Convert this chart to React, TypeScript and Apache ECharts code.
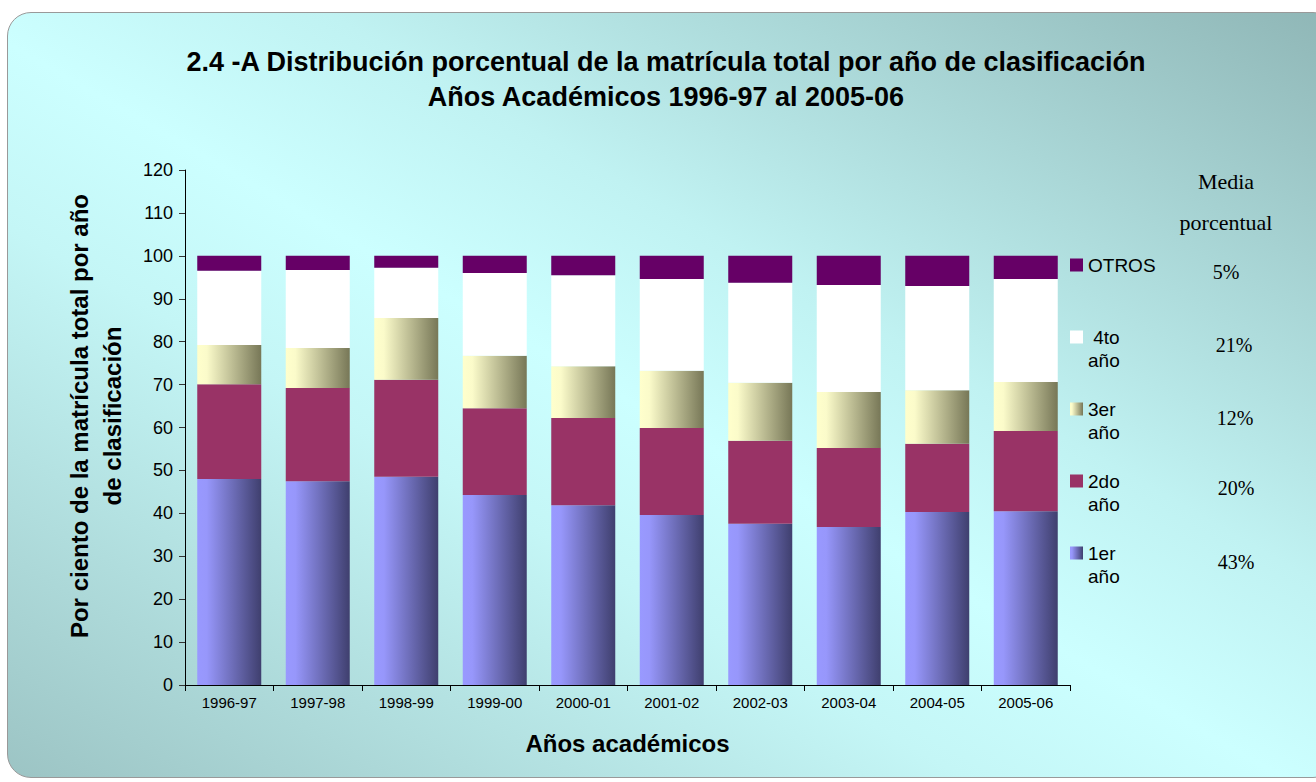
import React, { useEffect, useRef } from "react";
import * as echarts from "echarts";

const categories = ["1996-97", "1997-98", "1998-99", "1999-00", "2000-01", "2001-02", "2002-03", "2003-04", "2004-05", "2005-06"];
const primero = [48.0, 47.5, 48.5, 44.3, 41.9, 39.6, 37.6, 36.8, 40.3, 40.5];
const segundo = [22.1, 21.7, 22.6, 20.2, 20.3, 20.3, 19.3, 18.4, 15.9, 18.7];
const tercero = [9.1, 9.3, 14.4, 12.2, 12.1, 13.3, 13.5, 13.1, 12.5, 11.4];
const cuarto = [17.3, 18.2, 11.7, 19.3, 21.2, 21.4, 23.3, 24.9, 24.3, 24.0];
const otros = [3.5, 3.3, 2.8, 4.0, 4.5, 5.4, 6.3, 6.8, 7.0, 5.4];

const seriesNames = ["1er\naño", "2do\naño", "3er\naño", " 4to\naño", "OTROS"];
const legendOrder = ["OTROS", " 4to\naño", "3er\naño", "2do\naño", "1er\naño"];
const mediaValues = ["5%", "21%", "12%", "20%", "43%"];
const yTicks = { min: 0, max: 120, interval: 10 };

const SANS = "'Liberation Sans', Arial, sans-serif";
const SERIF = "'Liberation Serif', 'Times New Roman', serif";

const grad = (stops: [number, string][]) =>
  new echarts.graphic.LinearGradient(0, 0, 1, 0, stops.map(([offset, color]) => ({ offset, color })));

const colorFor = (name: string) => {
  switch (name) {
    case "1er\naño":
      return grad([[0, "#9999ff"], [0.15, "#9797fb"], [1, "#3f3f6e"]]);
    case "2do\naño":
      return "#993366";
    case "3er\naño":
      return grad([[0, "#ffffcc"], [0.15, "#fbfbca"], [1, "#777757"]]);
    case " 4to\naño":
      return "#ffffff";
    default:
      return "#660066";
  }
};

export default function App() {
  const ref = useRef<HTMLDivElement>(null);

  useEffect(() => {
    if (!ref.current) return;
    const chart = echarts.init(ref.current, null, { renderer: "svg" });
    const dataBy: Record<string, number[]> = {
      "1er\naño": primero,
      "2do\naño": segundo,
      "3er\naño": tercero,
      " 4to\naño": cuarto,
      OTROS: otros,
    };

    const legendTop = 265;
    const legendStep = 72;
    const g: any[] = [];
    legendOrder.forEach((name, i) => {
      const cy = legendTop + i * legendStep;
      g.push({
        type: "rect",
        shape: { x: 1070, y: cy - 6.5, width: 13, height: 13 },
        style: { fill: colorFor(name) },
        silent: true,
      });
      g.push({
        type: "text",
        x: 1088,
        y: cy - 11.5,
        style: {
          text: name,
          font: `19px ${SANS}`,
          fill: "#000",
          lineHeight: 23,
          textAlign: "left",
          textVerticalAlign: "top",
        },
        silent: true,
      });
    });
    const mediaY = [272, 345, 418, 488, 562];
    const mediaX = [1226, 1234, 1235, 1236, 1236];
    mediaValues.forEach((v, i) => {
      g.push({
        type: "text",
        x: mediaX[i],
        y: mediaY[i],
        style: { text: v, font: `20px ${SERIF}`, fill: "#000", textAlign: "center", textVerticalAlign: "middle" },
        silent: true,
      });
    });
    g.push({
      type: "text",
      x: 1226,
      y: 181,
      style: { text: "Media", font: `22px ${SERIF}`, fill: "#000", textAlign: "center", textVerticalAlign: "middle" },
      silent: true,
    });
    g.push({
      type: "text",
      x: 1226,
      y: 222,
      style: { text: "porcentual", font: `22px ${SERIF}`, fill: "#000", textAlign: "center", textVerticalAlign: "middle" },
      silent: true,
    });
    g.push({
      type: "text",
      x: 96,
      y: 416,
      rotation: Math.PI / 2,
      style: {
        text: "Por ciento de la matrícula total por año\nde clasificación",
        font: `bold 24px ${SANS}`,
        fill: "#000",
        lineHeight: 33,
        textAlign: "center",
        textVerticalAlign: "middle",
      },
      silent: true,
    });

    chart.setOption({
      animation: false,
      backgroundColor: "transparent",
      title: {
        text: "2.4 -A Distribución porcentual de la matrícula total por año de clasificación\nAños Académicos 1996-97 al 2005-06",
        left: 666,
        textAlign: "center",
        top: 44,
        padding: 0,
        textStyle: { fontFamily: SANS, fontWeight: "bold", fontSize: 27, lineHeight: 35, color: "#000" },
      },
      grid: { left: 185, right: 246, top: 170, bottom: 97, containLabel: false },
      xAxis: {
        type: "category",
        data: categories,
        boundaryGap: true,
        name: "Años académicos",
        nameLocation: "middle",
        nameGap: 46,
        nameTextStyle: { fontFamily: SANS, fontWeight: "bold", fontSize: 24, color: "#000" },
        axisLine: { lineStyle: { color: "#000", width: 1 } },
        axisTick: { show: true, alignWithLabel: false, inside: false, length: 6, lineStyle: { color: "#000" } },
        axisLabel: { fontFamily: SANS, fontSize: 15, color: "#000", margin: 10, interval: 0 },
        splitLine: { show: false },
      },
      yAxis: {
        type: "value",
        min: yTicks.min,
        max: yTicks.max,
        interval: yTicks.interval,
        axisLine: { show: true, lineStyle: { color: "#000", width: 1 } },
        axisTick: { show: true, inside: false, length: 6, lineStyle: { color: "#333" } },
        axisLabel: { fontFamily: SANS, fontSize: 18, color: "#000", margin: 12 },
        splitLine: { show: false },
      },
      series: seriesNames.map((name) => ({
        name,
        type: "bar",
        stack: "total",
        barWidth: 64,
        data: dataBy[name],
        itemStyle: { color: colorFor(name) },
        emphasis: { disabled: true },
      })),
      graphic: g,
    });

    return () => chart.dispose();
  }, []);

  return (
    <div style={{ position: "absolute", left: 0, top: 0, width: 1316, height: 782, overflow: "hidden", background: "#fff" }}>
      <div
        style={{
          position: "absolute",
          left: 7,
          top: 12,
          width: 1330,
          height: 766,
          boxSizing: "border-box",
          border: "1px solid #999",
          borderRadius: 24,
          background: "linear-gradient(to bottom left, #8fb6b6 0%, #c0f2f2 38%, #ccffff 52%, #c4f6f6 64%, #9cc4c4 100%)",
        }}
      />
      <div ref={ref} style={{ position: "absolute", left: 0, top: 0, width: 1316, height: 782 }} />
    </div>
  );
}
